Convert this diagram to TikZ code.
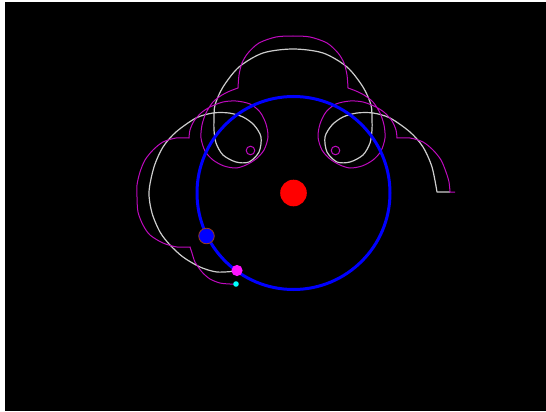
\documentclass[tikz,border=0pt]{standalone}
\usepackage{tikz}
\usepackage{xcolor}
\definecolor{orbitblue} {RGB}{  0,  0,255}
\definecolor{sunred}    {RGB}{255,  0,  0}
\definecolor{pathgrey}  {RGB}{205,205,205}
\definecolor{pathpurple}{RGB}{190, 10,190}
\definecolor{ballpink}  {RGB}{255, 20,255}
\definecolor{rimbrown}  {RGB}{150, 60, 30}
\definecolor{dotcyan}   {RGB}{  0,255,255}

\begin{document}
\begin{tikzpicture}[
    x=1pt, y=-1pt,
    orbit/.style={draw=orbitblue, line width=3pt},
    slowtrace/.style={draw=pathgrey, line width=1.2pt, line join=round},
    fasttrace/.style={draw=pathpurple, line width=1pt, line join=miter},
    ball/.style={line width=0.8pt}
]
    \fill[white] (0,0) rectangle (546,412);
    \fill[black] (5,2) rectangle (546,411);
    \useasboundingbox (0,0) rectangle (546,412);

    \coordinate (sun) at (293.5,193);
    \coordinate (planet) at (206.5,236);
    \coordinate (moon) at (237,270.5);
    \coordinate (probe) at (236,284);

    \draw[slowtrace] (450,192) -- (437,192) -- plot[smooth] coordinates {
        (437,192) (432,167) (423,147) (410,132) (390,118) (373,113) (357,113)
        (343,117) (332,125) (325,137) (327,152) (337,162) (350,162) (363,155)
        (370,143) (372,130) (372,120) (371,105) (363,87) (347,67) (323,53)
        (293,49) (263,53) (239,67) (223,87) (215,105) (214,120) (214,130)
        (216,143) (223,155) (236,162) (249,162) (259,152) (261,137) (254,125)
        (243,117) (229,113) (213,113) (196,118) (176,132) (163,147) (154,167)
        (149,192) (152,213) (160,232) (170,245) (183,257) (200,267) (217,272)
        (237,271)};

    \draw[fasttrace] (455,192) -- (450,192) -- plot[smooth] coordinates {
        (450,192) (449,182) (446,172) (441,160) (433,150) (423,142) (410,138)
        (397,138)} -- plot[smooth] coordinates {
        (397,138) (396,130) (392,121) (385,113) (376,107) (363,102) (350,101)
        (336,104) (326,112) (320,124) (318,137) (322,150) (330,159) (340,165)
        (350,168) (362,166) (373,160) (381,151) (385,138) (384,125) (380,113)
        (373,102) (364,95) (356,91) (348,88)} -- plot[smooth] coordinates {
        (348,88) (347,75) (344,63) (338,53) (327,43) (310,37) (293,36)
        (276,37) (259,43) (248,53) (242,63) (239,75) (238,88)} -- plot[smooth] coordinates {
        (238,88) (230,91) (222,95) (213,102) (206,113) (202,125) (201,138)
        (205,151) (213,160) (224,166) (236,168) (246,165) (256,159) (264,150)
        (268,137) (266,124) (260,112) (250,104) (236,101) (223,102) (210,107)
        (201,113) (194,121) (190,130) (189,138)} -- plot[smooth] coordinates {
        (189,138) (176,138) (163,142) (153,150) (145,160) (140,172) (137,185)
        (137,197) (138,212) (143,225) (150,235) (163,243) (177,247) (190,247)} -- plot[smooth] coordinates {
        (190,247) (192,253) (195,262) (202,272) (210,279) (220,283) (230,284)
        (236,284)};
    \draw[fasttrace] (335.5,150.5) circle[radius=4.3];
    \draw[fasttrace] (250.5,150.5) circle[radius=4.3];

    \draw[orbit] (sun) circle[radius=96.5];
    \fill[sunred] (sun) circle[radius=13.3];
    \filldraw[ball, fill=orbitblue, draw=rimbrown] (planet) circle[radius=7.8];
    \fill[ballpink] (moon) circle[radius=5.6];
    \fill[dotcyan] (probe) circle[radius=2.8];
\end{tikzpicture}
\end{document}
